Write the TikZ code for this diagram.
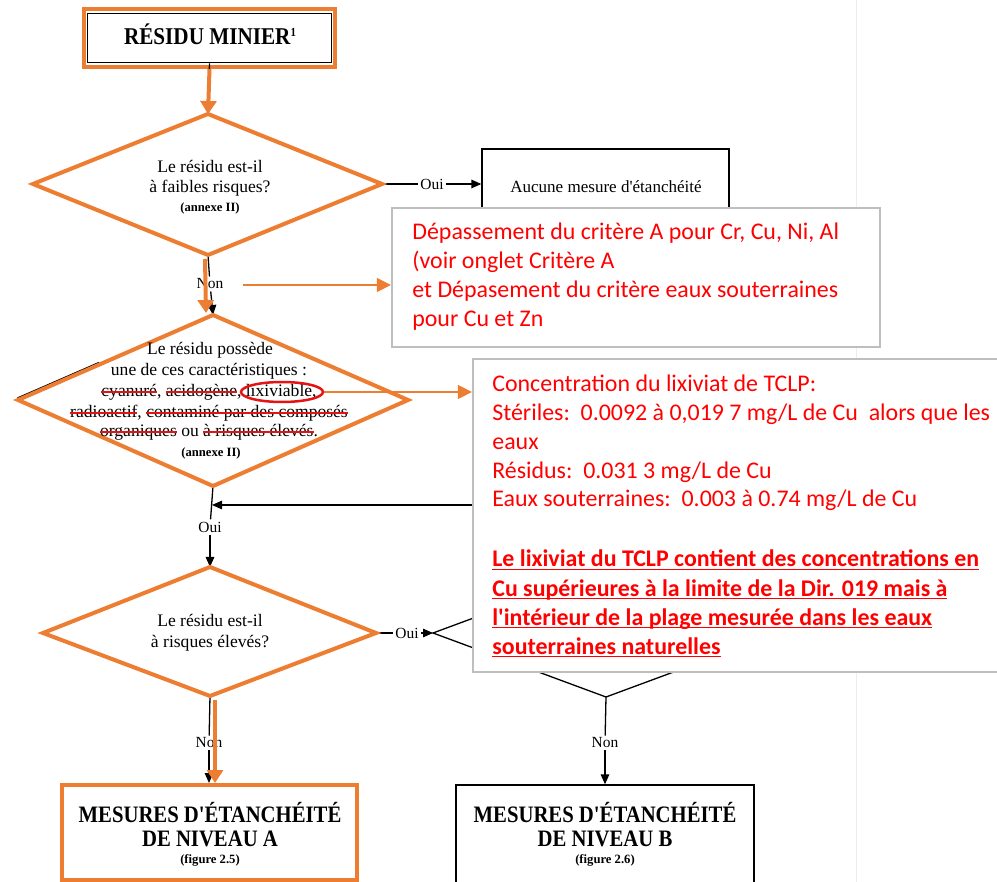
\documentclass[tikz,border=0pt]{standalone}
\usepackage{fontspec}
\setmainfont{Liberation Serif}
\newfontfamily\notefont{Carlito}
\newfontfamily\plainserif{Liberation Serif}
\newfontfamily\condfont[FakeStretch=0.88]{Liberation Serif}
\usetikzlibrary{arrows.meta,shapes.geometric}
\definecolor{orng}{RGB}{237,125,49}
\definecolor{nred}{RGB}{255,0,0}
\definecolor{sred}{RGB}{228,20,20}
\definecolor{gborder}{RGB}{190,190,190}
\newsavebox\mybox
\newcommand\strk[1]{\sbox\mybox{#1}\rlap{\usebox\mybox}{\color{sred}\rule[0.25em]{\wd\mybox}{0.07em}}}
\newcommand\uline[1]{\sbox\mybox{#1}\rlap{\usebox\mybox}\rule[-0.14em]{\wd\mybox}{0.075em}}
\begin{document}
\begin{tikzpicture}[x=0.2mm,y=-0.2mm,
  blk/.style={draw=black,line width=0.26mm},
  blkarrow/.style={blk,-{Triangle[length=2mm,width=1.7mm]}},
  orarrow/.style={draw=orng,line width=0.8mm,-{Triangle[length=2.6mm,width=3.2mm]}},
  ornote/.style={draw=orng,line width=0.3mm,-{Triangle[length=2.8mm,width=2.8mm]}},
  orline/.style={draw=orng,line width=0.8mm,line join=miter},
  notebox/.style={draw=gborder,line width=0.45mm,fill=white,inner sep=0},
  dtext/.style={font=\plainserif\fontsize{10}{12}\selectfont,inner sep=0,anchor=base},
  small/.style={font=\bfseries\fontsize{7.2}{8}\selectfont,inner sep=0,anchor=base},
  btitle/.style={font=\condfont\bfseries\fontsize{13.4}{15}\selectfont,inner sep=0,anchor=base},
  lbl/.style={font=\fontsize{8.8}{10}\selectfont,fill=white,inner sep=0.4mm},
  ntext/.style={font=\notefont\fontsize{13.6}{16}\selectfont,text=nred,inner sep=0,anchor=base west},
  nbold/.style={font=\notefont\bfseries\fontsize{13.6}{16}\selectfont,text=nred,inner sep=0,anchor=base west}
]
\useasboundingbox (0,0) rectangle (997,882);
\fill[white] (0,0) rectangle (997,882);
\draw[black!7,line width=0.2mm] (856,0) -- (856,882);

% diamond vertices
\coordinate (d1t) at (208,114); \coordinate (d1r) at (382,184);
\coordinate (d1b) at (208,255); \coordinate (d1l) at (33,184);
\coordinate (d2t) at (213,315); \coordinate (d2r) at (408,400);
\coordinate (d2b) at (213,486); \coordinate (d2l) at (18,400);
\coordinate (d3t) at (210,567); \coordinate (d3r) at (376,633);
\coordinate (d3b) at (210,696); \coordinate (d3l) at (43,633);
\coordinate (d4t) at (606,569); \coordinate (d4r) at (779,633);
\coordinate (d4b) at (606,697); \coordinate (d4l) at (433,633);

% top box
\node[draw=orng,line width=0.8mm,minimum width=50.2mm,minimum height=11.6mm,inner sep=0] (top) at (209.5,38) {};
\node[blk,minimum width=48.8mm,minimum height=9.9mm,inner sep=0] (topin) at (209.5,38) {};
\node[font=\condfont\bfseries\fontsize{13.7}{15}\selectfont,anchor=base,inner sep=0] (toptxt) at (210,45) {RÉSIDU MINIER\raisebox{0.75ex}{\fontsize{7}{8}\selectfont 1}};

% box "Aucune"
\node[blk,minimum width=49.4mm,minimum height=30.2mm,inner sep=0] (auc) at (605.5,224.5) {};
\node[font=\plainserif\fontsize{9.7}{11}\selectfont,anchor=base,inner sep=0] (auctxt) at (606,193) {Aucune mesure d'étanchéité};

% hidden diamond 4 and feedback
\draw[blk] (d4t) -- (d4r) -- (d4b) -- (d4l) -- cycle;
\coordinate (fb) at (212,505);
\coordinate (fbr) at (480,505);
\draw[blkarrow] (fbr) -- (fb);

% connectors (black)
\draw[blkarrow] (topin.south) -- (d1t);
\node[lbl] (oui1) at (432,184) {Oui};
\draw[blk] (d1r) -- (oui1);
\draw[blkarrow] (oui1) -- (auc.west |- oui1);
\node[lbl] (non1) at (210,284) {Non};
\draw[blk] (d1b) -- (non1);
\draw[blkarrow] (non1) -- (d2t);
\node[lbl] (oui2) at (210,527) {Oui};
\draw[blk] (d2b) -- (oui2);
\draw[blkarrow] (oui2) -- (d3t);
\node[lbl] (oui3) at (407,633) {Oui};
\draw[blk] (d3r) -- (oui3);
\draw[blkarrow] (oui3) -- (d4l);

% bottom boxes
\node[draw=orng,line width=0.8mm,minimum width=59mm,minimum height=19mm,inner sep=0] (bA) at (209.5,832.5) {};
\node[blk,minimum width=59.6mm,minimum height=21mm,inner sep=0] (bB) at (605,837.5) {};
\node[lbl] (non3) at (209,743) {Non};
\draw[blk] (d3b) -- (non3);
\draw[blkarrow] (non3) -- (non3 |- bA.north);
\node[lbl] (non4) at (605,743) {Non};
\draw[blk] (d4b) -- (non4);
\draw[blkarrow] (non4) -- (bB.north);

\node[btitle] (a1) at (210,822) {MESURES D'ÉTANCHÉITÉ};
\node[btitle] (a2) at (210,846) {DE NIVEAU A};
\node[small] (a3) at (210,863) {(figure 2.5)};
\node[btitle] (b1) at (605,822) {MESURES D'ÉTANCHÉITÉ};
\node[btitle] (b2) at (605,846) {DE NIVEAU B};
\node[small] (b3) at (605,863) {(figure 2.6)};

% diamonds (orange)
\draw[blk] (17.5,398) -- (99,362.5);
\draw[orline] (d1t) -- (d1r) -- (d1b) -- (d1l) -- cycle;
\draw[orline] (d2t) -- (d2r) -- (d2b) -- (d2l) -- cycle;
\draw[orline] (d3t) -- (d3r) -- (d3b) -- (d3l) -- cycle;

% diamond texts
\node[dtext] (t11) at (210,173) {Le résidu est-il};
\node[dtext] (t12) at (210,193) {à faibles risques?};
\node[small] (t13) at (210,212) {(annexe II)};

\node[dtext] (t21) at (210,355) {Le résidu possède};
\node[dtext] (t22) at (209,376) {une de ces caractéristiques :};
\node[dtext] (t23) at (209,397) {\strk{cyanuré}, \strk{acidogène}, lixiviable,};
\node[dtext] (t24) at (209,418) {\strk{radioactif}, \strk{contaminé par des composés}};
\node[dtext] (t25) at (209,437) {\strk{organiques} ou \strk{à risques élevés}.};
\node[small] (t26) at (211,457) {(annexe II)};

\node[dtext] (t31) at (210,627) {Le résidu est-il};
\node[dtext] (t32) at (210,647) {à risques élevés?};

\node[draw=sred,line width=0.5mm,ellipse,minimum width=16.4mm,minimum height=4mm,inner sep=0] (lix) at (282,392) {};

% note boxes
\node[notebox,minimum width=97.6mm,minimum height=27.8mm] (n1) at (636,277.5) {};
\node[ntext] (n11) at (412,240) {Dépassement du critère A pour Cr, Cu, Ni, Al};
\node[ntext] (n12) at (412,269) {(voir onglet Critère A};
\node[ntext] (n13) at (412,298) {et Dépasement du critère eaux souterraines};
\node[ntext] (n14) at (412,327) {pour Cu et Zn};

\node[notebox,minimum width=106.4mm,minimum height=62.6mm] (n2) at (739,515.5) {};
\node[ntext] (n21) at (492,392) {Concentration du lixiviat de TCLP:};
\node[ntext] (n22) at (492,421) {Stériles:\ \ 0.0092 à 0,019 7 mg/L de Cu\ \ alors que les};
\node[ntext] (n23) at (492,450) {eaux};
\node[ntext] (n24) at (492,479) {Résidus:\ \ 0.031 3 mg/L de Cu};
\node[ntext] (n25) at (492,507) {Eaux souterraines:\ \ 0.003 à 0.74 mg/L de Cu};
\node[nbold] (n26) at (492,567) {\uline{Le lixiviat du TCLP contient des concentrations en}};
\node[nbold] (n27) at (492,596) {\uline{Cu supérieures à la limite de la\ Dir. 019 mais à}};
\node[nbold] (n28) at (492,625) {\uline{l'intérieur de la plage mesurée dans les eaux}};
\node[nbold] (n29) at (492,654) {\uline{souterraines naturelles}};

% orange arrows
\draw[orarrow] (top.south) -- (d1t);
\coordinate (o1s) at (205,259); \coordinate (o1e) at (206,313);
\draw[orarrow] (o1s) -- (o1e);
\coordinate (o3s) at (215,700);
\draw[orarrow] (o3s) -- (o3s |- bA.north);
\coordinate (na) at (243,285);
\draw[ornote] (na) -- (n1.west |- na);
\draw[ornote] (lix.east) -- (n2.west |- lix.east);
\end{tikzpicture}
\end{document}
